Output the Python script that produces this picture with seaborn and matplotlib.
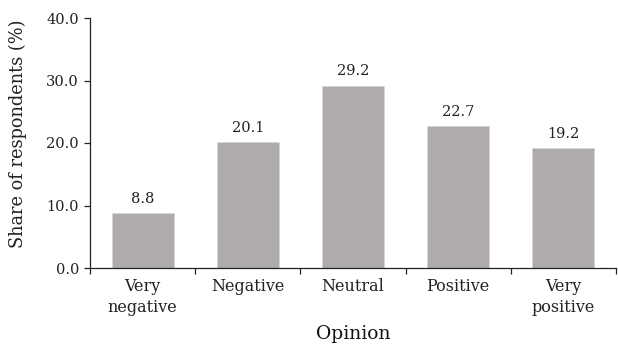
import matplotlib
matplotlib.use("Agg")
import matplotlib.pyplot as plt
import seaborn as sns
import pandas as pd
from matplotlib.ticker import FixedLocator, FormatStrFormatter

categories = ["Very\nnegative", "Negative", "Neutral", "Positive", "Very\npositive"]
values = [8.8, 20.1, 29.2, 22.7, 19.2]
yticks = [0, 10, 20, 30, 40]

sns.set_theme(style="ticks")
plt.rcParams['font.family'] = ['DejaVu Serif']

df = pd.DataFrame({"Opinion": categories, "Share": values})

fig = plt.figure(figsize=(6.18, 3.5), dpi=100)
ax = fig.add_axes([90/618, 1 - 268/350, (616-90)/618, (268-18)/350])
sns.barplot(data=df, x="Opinion", y="Share", color="#afabaa", saturation=1,
            width=0.59, edgecolor="#d8d5d5", linewidth=0.6, ax=ax)

ink = "#222222"
ax.set_ylim(0, 40)
ax.set_xlim(-0.5, len(categories) - 0.5)
ax.set_yticks(yticks)
ax.yaxis.set_major_formatter(FormatStrFormatter("%.1f"))
ax.tick_params(axis="y", labelsize=10.5, length=4, width=0.9, color=ink, pad=4, labelcolor=ink)
ax.tick_params(axis="x", which="major", length=0, labelsize=11.5, pad=7, labelcolor=ink)
ax.xaxis.set_minor_locator(FixedLocator([i - 0.5 for i in range(len(categories) + 1)]))
ax.tick_params(axis="x", which="minor", length=4, width=0.9, color=ink)
for lab in ax.get_xticklabels():
    lab.set_linespacing(1.3)

sns.despine(ax=ax)
for s in ["left", "bottom"]:
    ax.spines[s].set_color(ink)
    ax.spines[s].set_linewidth(0.9)

for i, v in enumerate(values):
    ax.annotate(f"{v:.1f}", (i, v), xytext=(0, 7.5), textcoords="offset points",
                ha="center", va="baseline", fontsize=10.5, color=ink)

ax.set_ylabel("Share of respondents (%)", fontsize=12.8, color=ink)
ax.yaxis.set_label_coords(-0.12, 0.536)
ax.set_xlabel("Opinion", fontsize=13.5, color="#111111", labelpad=7)

fig.savefig("out.png", dpi=100)
